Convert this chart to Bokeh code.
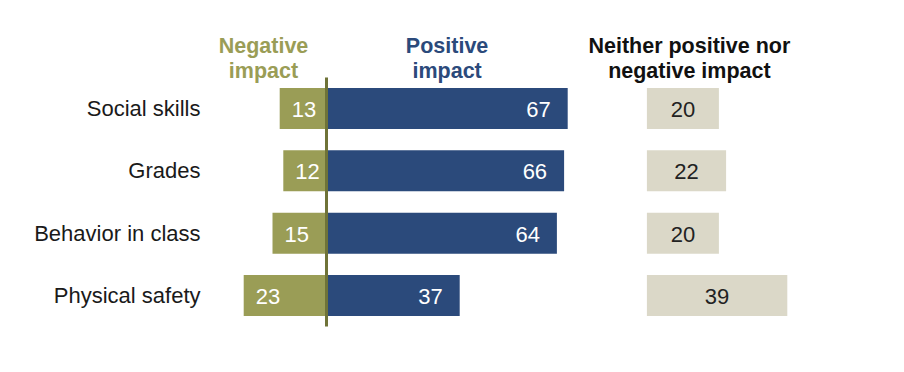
from bokeh.plotting import figure
from bokeh.models import Range1d, ColumnDataSource
from bokeh.core.properties import value
from bokeh.embed import file_html
from bokeh.resources import INLINE

categories = ["Social skills", "Grades", "Behavior in class", "Physical safety"]
negative = [13, 12, 15, 23]
positive = [67, 66, 64, 37]
neither = [20, 22, 20, 39]
headers_neg = ["Negative", "impact"]
headers_pos = ["Positive", "impact"]
headers_nei = ["Neither positive nor", "negative impact"]

NEG_C = "#9a9d56"
POS_C = "#2b4a7b"
NEI_C = "#dbd8c8"
LINE_C = "#6f7338"
FONT = value("Liberation Sans")

W, H = 888, 356
SCALE = 3.6          # px per percentage point
ZERO_PX = 326        # baseline location in figure px
NEI_OFF = 89         # start of the "neither" column, in points
ROW0, ROW_STEP, BAR_H = 108, 62.33, 41

p = figure(width=W, height=H, output_backend="svg", toolbar_location=None,
           x_range=Range1d(-ZERO_PX / SCALE, (W - ZERO_PX) / SCALE),
           y_range=Range1d(H, 0), min_border=0, outline_line_color=None,
           background_fill_color="white", border_fill_color="white")
p.axis.visible = False
p.grid.visible = False

ys = [ROW0 + i * ROW_STEP for i in range(len(categories))]
src = ColumnDataSource(dict(
    y=ys, cat=categories,
    neg_l=[-v for v in negative], neg=negative, neg_t=[str(v) for v in negative],
    pos=positive, pos_t=[str(v) for v in positive],
    nei_r=[NEI_OFF + v for v in neither], nei_c=[NEI_OFF + v / 2 for v in neither],
    nei_t=[str(v) for v in neither],
    zero=[0] * len(categories), nei0=[NEI_OFF] * len(categories),
))

p.hbar(y="y", left="neg_l", right="zero", height=BAR_H, source=src,
       fill_color=NEG_C, line_color=None)
p.hbar(y="y", left="zero", right="pos", height=BAR_H, source=src,
       fill_color=POS_C, line_color=None)
p.hbar(y="y", left="nei0", right="nei_r", height=BAR_H, source=src,
       fill_color=NEI_C, line_color=None)

p.segment(x0=[0], y0=[77], x1=[0], y1=[326], line_color=LINE_C, line_width=3)

p.text(x="neg_l", y="y", text="neg_t", source=src, text_align="left",
       text_baseline="middle", x_offset=12, y_offset=1, text_color="white",
       text_font=FONT, text_font_size="22px")
p.text(x="pos", y="y", text="pos_t", source=src, text_align="right",
       text_baseline="middle", x_offset=-17, y_offset=1, text_color="white",
       text_font=FONT, text_font_size="22px")
p.text(x="nei_c", y="y", text="nei_t", source=src, text_align="center",
       text_baseline="middle", y_offset=1, text_color="#222222",
       text_font=FONT, text_font_size="22px")
p.text(x=-35, y="y", text="cat", source=src, text_align="right",
       text_baseline="middle", text_color="#1a1a1a",
       text_font=FONT, text_font_size="22px")

head_y = [45, 70.5]
for lines, xc, col in [(headers_neg, -17.5, NEG_C), (headers_pos, 33.5, POS_C),
                       (headers_nei, 100.8, "#111111")]:
    p.text(x=[xc] * len(lines), y=head_y[:len(lines)], text=lines,
           text_align="center", text_baseline="middle", text_color=col,
           text_font=FONT, text_font_size="21.5px", text_font_style="bold")

open("out.html", "w").write(file_html(p, INLINE))
